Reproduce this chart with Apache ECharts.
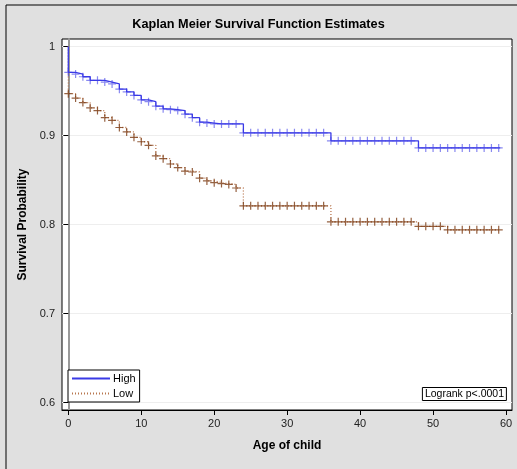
<!DOCTYPE html>
<html>
<head>
<meta charset="utf-8">
<script src="https://cdn.jsdelivr.net/npm/echarts@6/dist/echarts.min.js"></script>
<style>
html,body{margin:0;padding:0;background:#e0e0e0;}
#chart{width:517px;height:469px;}
</style>
</head>
<body>
<div id="chart"></div>
<script>
// ---- data ----
const months = [0,1,2,3,4,5,6,7,8,9,10,11,12,13,14,15,16,17,18,19,20,21,22,23,24,25,26,27,28,29,30,31,32,33,34,35,36,37,38,39,40,41,42,43,44,45,46,47,48,49,50,51,52,53,54,55,56,57,58,59];
const highSurv = [0.971,0.969,0.966,0.962,0.962,0.960,0.958,0.952,0.949,0.945,0.940,0.938,0.933,0.930,0.929,0.928,0.924,0.920,0.915,0.914,0.913,0.913,0.913,0.913,
  0.903,0.903,0.903,0.903,0.903,0.903,0.903,0.903,0.903,0.903,0.903,0.903,
  0.894,0.894,0.894,0.894,0.894,0.894,0.894,0.894,0.894,0.894,0.894,0.894,
  0.886,0.886,0.886,0.886,0.886,0.886,0.886,0.886,0.886,0.886,0.886,0.886];
const lowSurv = [0.947,0.942,0.937,0.931,0.928,0.920,0.917,0.909,0.904,0.898,0.893,0.889,0.877,0.874,0.868,0.864,0.860,0.859,0.852,0.849,0.847,0.846,0.845,0.841,
  0.821,0.821,0.821,0.821,0.821,0.821,0.821,0.821,0.821,0.821,0.821,0.821,
  0.803,0.803,0.803,0.803,0.803,0.803,0.803,0.803,0.803,0.803,0.803,0.803,
  0.798,0.798,0.798,0.798,0.794,0.794,0.794,0.794,0.794,0.794,0.794,0.794];
const startSurv = 1;
const lastFollowUp = 59.2;
const xTicks = [0,10,20,30,40,50,60];
const yTicks = [0.6,0.7,0.8,0.9,1];
const groupNames = ['High','Low'];

// ---- build series data ----
function stepData(vals){
  const d = [[months[0], startSurv]];
  months.forEach((t,i)=>d.push([t, vals[i]]));
  d.push([lastFollowUp, vals[vals.length-1]]);
  return d;
}
function censorData(vals){ return months.map((t,i)=>[t, vals[i]]); }

const FONT = 'Liberation Sans, Arial, sans-serif';
const blue = '#3a3ae6';
const brownLine = '#b8764e';
const brownMark = '#7a3a12';
const plus = 'path://M5,0 L5,10 M0,5 L10,5';

const chart = echarts.init(document.getElementById('chart'), null, {renderer:'canvas'});
chart.setOption({
  backgroundColor: '#e0e0e0',
  animation: false,
  title: [
    { text: 'Kaplan Meier Survival Function Estimates', left: 'center', top: 18, padding: 0,
      textStyle: { fontFamily: FONT, fontSize: 12.7, fontWeight: 'bold', color: '#000' } },
    { text: 'Logrank p<.0001', right: 10, top: 387, padding: [2,3,1,3],
      borderColor: '#000', borderWidth: 1, backgroundColor: '#fff',
      textStyle: { fontFamily: FONT, fontSize: 10.5, fontWeight: 'normal', color: '#000' } }
  ],
  legend: {
    data: groupNames, orient: 'vertical', left: 68, top: 370,
    padding: [3,4,3,3], itemGap: 4, itemWidth: 38, itemHeight: 11,
    borderColor: '#000', borderWidth: 1, backgroundColor: '#fff',
    itemStyle: { opacity: 0 },
    textStyle: { fontFamily: FONT, fontSize: 11, color: '#000', padding: [0,0,0,-2] },
    selectedMode: false
  },
  grid: { left: 62, top: 39, right: 5, bottom: 59, show: true, backgroundColor: '#fff', borderColor: '#000', borderWidth: 1 },
  xAxis: {
    type: 'value', min: -0.864, max: 60.82,
    name: 'Age of child', nameLocation: 'middle', nameGap: 30,
    nameTextStyle: { fontFamily: FONT, fontSize: 12, fontWeight: 'bold', color: '#000' },
    axisLine: { show: true, lineStyle: { color: '#000', width: 1 } },
    axisTick: { show: true, length: 5, customValues: xTicks, lineStyle: { color: '#000' } },
    axisLabel: { customValues: xTicks, margin: 8, fontFamily: FONT, fontSize: 11, color: '#222' },
    splitLine: { show: false }
  },
  yAxis: {
    type: 'value', min: 0.59157, max: 1.00843,
    name: 'Survival Probability', nameLocation: 'middle', nameGap: 29,
    nameTextStyle: { fontFamily: FONT, fontSize: 12, fontWeight: 'bold', color: '#000' },
    axisLine: { show: true, lineStyle: { color: '#999', width: 2 } },
    axisTick: { show: true, length: 5, customValues: yTicks, lineStyle: { color: '#000' } },
    axisLabel: { customValues: yTicks, margin: 7, fontFamily: FONT, fontSize: 11, color: '#222',
      formatter: v => String(Math.round(v*10)/10) },
    splitLine: { show: true, lineStyle: { color: '#eeeeee', width: 1 } }
  },
  graphic: [
    { type: 'line', shape: { x1: 6, y1: 5, x2: 517, y2: 5 }, style: { stroke: '#000', lineWidth: 1 }, silent: true },
    { type: 'line', shape: { x1: 6, y1: 5, x2: 6, y2: 469 }, style: { stroke: '#000', lineWidth: 1 }, silent: true }
  ],
  series: [
    { name: 'High', type: 'line', step: 'end', data: stepData(highSurv), symbol: 'none',
      lineStyle: { color: blue, width: 1.3, type: 'solid' }, itemStyle: { color: blue }, z: 3 },
    { name: 'Low', type: 'line', step: 'end', data: stepData(lowSurv), symbol: 'none',
      lineStyle: { color: brownLine, width: 1.3, type: [1,2] }, itemStyle: { color: brownLine }, z: 2 },
    { name: 'High censored', type: 'scatter', data: censorData(highSurv), symbol: plus, symbolSize: 8,
      itemStyle: { color: 'none', borderColor: 'rgba(58,58,230,0.75)', borderWidth: 1.2 }, z: 4 },
    { name: 'Low censored', type: 'scatter', data: censorData(lowSurv), symbol: plus, symbolSize: 8,
      itemStyle: { color: 'none', borderColor: brownMark, borderWidth: 1.2 }, z: 4 }
  ]
});
</script>
</body>
</html>
